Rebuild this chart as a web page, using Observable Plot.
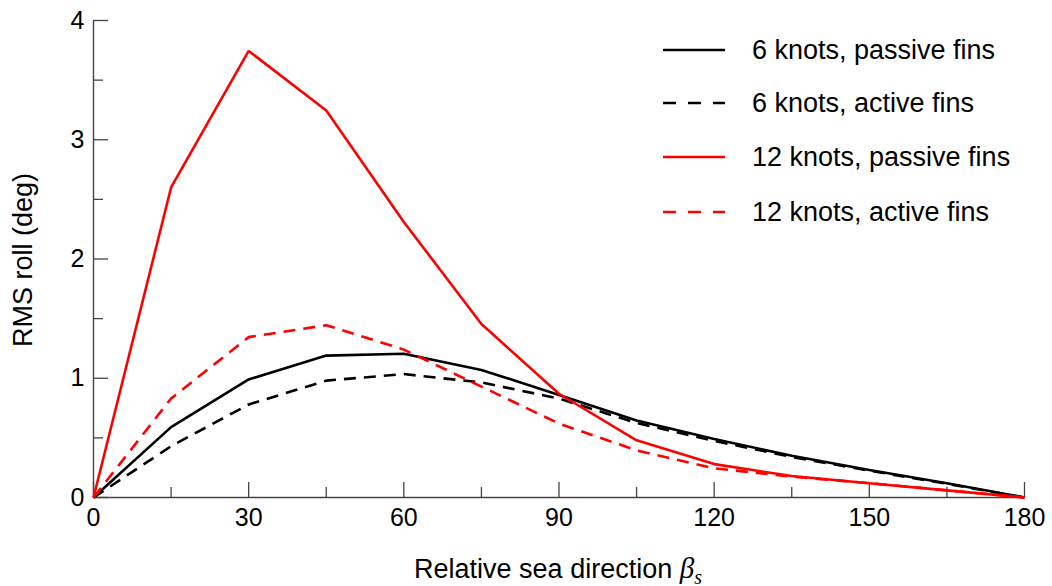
<!DOCTYPE html>
<html>
<head>
<meta charset="utf-8">
<script src="https://cdn.jsdelivr.net/npm/d3@7"></script>
<script src="https://cdn.jsdelivr.net/npm/@observablehq/plot@0.6"></script>
<style>
  body { margin: 0; background: #fff; }
  #wrap { position: relative; width: 1052px; height: 586px; font-family: "Liberation Sans", Arial, Helvetica, sans-serif; color: #000; }
  #wrap svg { display: block; }
  .ylabel { position: absolute; left: 23px; top: 260px; transform: translate(-50%, -50%) rotate(-90deg); font-size: 27px; white-space: nowrap; }
  .xlabel { position: absolute; left: 558px; top: 552px; transform: translateX(-50%); font-size: 27px; white-space: nowrap; line-height: 32px; }
  .xlabel .beta { font-family: "Liberation Serif", "DejaVu Serif", serif; font-style: italic; font-size: 29px; }
  .xlabel sub { font-family: "Liberation Serif", "DejaVu Serif", serif; font-style: italic; font-size: 20px; vertical-align: -6px; }
  .legend { position: absolute; left: 663px; top: 0; }
  .row { position: absolute; left: 0; height: 30px; display: flex; align-items: center; white-space: nowrap; font-size: 27px; }
  .row svg { margin-right: 27px; }
</style>
</head>
<body>
<div id="wrap"></div>
<script>
// Relative sea direction (deg)
const directions = [0, 15, 30, 45, 60, 75, 90, 105, 120, 135, 150, 165, 180];
// RMS roll (deg)
const knots6Passive  = [0, 0.59, 0.99, 1.19, 1.205, 1.07, 0.86, 0.645, 0.49, 0.35, 0.23, 0.12, 0];
const knots6Active   = [0, 0.43, 0.78, 0.98, 1.035, 0.965, 0.83, 0.625, 0.475, 0.34, 0.225, 0.115, 0];
const knots12Passive = [0, 2.60, 3.745, 3.245, 2.31, 1.455, 0.87, 0.48, 0.28, 0.18, 0.12, 0.06, 0];
const knots12Active  = [0, 0.83, 1.345, 1.445, 1.24, 0.93, 0.62, 0.395, 0.245, 0.175, 0.12, 0.06, 0];

const seriesNames = ["6 knots, passive fins", "6 knots, active fins", "12 knots, passive fins", "12 knots, active fins"];
const seriesValues = [knots6Passive, knots6Active, knots12Passive, knots12Active];
const seriesColors = ["#000000", "#000000", "#ff0000", "#ff0000"];
const seriesDashes = [null, "12,8", null, "12,8"];

const xMajorTicks = [0, 30, 60, 90, 120, 150, 180];
const xMinorTicks = [15, 45, 75, 105, 135, 165];
const yMajorTicks = [0, 1, 2, 3, 4];
const yMinorTicks = [0.5, 1.5, 2.5, 3.5];

const rows = seriesNames.map((name, i) =>
  directions.map((d, j) => ({series: name, direction: d, roll: seriesValues[i][j]}))
);

const axisColor = "#444";
const intFormat = d3.format("d");

const chart = Plot.plot({
  width: 1052,
  height: 586,
  marginLeft: 93,
  marginRight: 28,
  marginTop: 20,
  marginBottom: 89,
  x: {domain: [0, 180]},
  y: {domain: [0, 4]},
  style: {fontFamily: "'Liberation Sans', Arial, Helvetica, sans-serif", fontSize: "25px", color: "#000", background: "#fff"},
  marks: [
    Plot.ruleY([0], {stroke: axisColor, strokeWidth: 1.4}),
    Plot.ruleX([0], {stroke: axisColor, strokeWidth: 1.4}),
    Plot.axisX({ticks: xMajorTicks, tickSize: -15, tickFormat: () => "", label: null, stroke: axisColor, strokeWidth: 1.3, strokeOpacity: 1}),
    Plot.axisX({ticks: xMinorTicks, tickSize: -10, tickFormat: () => "", label: null, stroke: axisColor, strokeWidth: 1.3, strokeOpacity: 1}),
    Plot.axisX({ticks: xMajorTicks, tickSize: 0, tickPadding: 11, tickFormat: intFormat, label: null, fontSize: 25, fill: "#000"}),
    Plot.axisY({ticks: yMajorTicks, tickSize: -15, tickFormat: () => "", label: null, stroke: axisColor, strokeWidth: 1.3, strokeOpacity: 1}),
    Plot.axisY({ticks: yMinorTicks, tickSize: -10, tickFormat: () => "", label: null, stroke: axisColor, strokeWidth: 1.3, strokeOpacity: 1}),
    Plot.axisY({ticks: yMajorTicks, tickSize: 0, tickPadding: 9, tickFormat: intFormat, label: null, fontSize: 25, fill: "#000"}),
    ...rows.map((data, i) => Plot.line(data, {
      x: "direction", y: "roll",
      stroke: seriesColors[i], strokeWidth: 2.6,
      strokeDasharray: seriesDashes[i] ?? undefined,
      strokeLinejoin: "miter", strokeLinecap: "butt"
    }))
  ]
});

const wrap = document.getElementById("wrap");
wrap.appendChild(chart);

const yl = document.createElement("div");
yl.className = "ylabel";
yl.textContent = "RMS roll (deg)";
wrap.appendChild(yl);

const xl = document.createElement("div");
xl.className = "xlabel";
xl.innerHTML = 'Relative sea direction <span class="beta">β</span><sub>s</sub>';
wrap.appendChild(xl);

const legend = document.createElement("div");
legend.className = "legend";
const rowCenters = [50, 103, 157, 212];
seriesNames.forEach((name, i) => {
  const r = document.createElement("div");
  r.className = "row";
  r.style.top = (rowCenters[i] - 15) + "px";
  const dash = seriesDashes[i] ? `stroke-dasharray="13,12"` : "";
  r.innerHTML = `<svg width="62" height="10"><line x1="0" y1="5" x2="62" y2="5" stroke="${seriesColors[i]}" stroke-width="2.6" ${dash}/></svg><span>${name}</span>`;
  legend.appendChild(r);
});
wrap.appendChild(legend);
</script>
</body>
</html>
